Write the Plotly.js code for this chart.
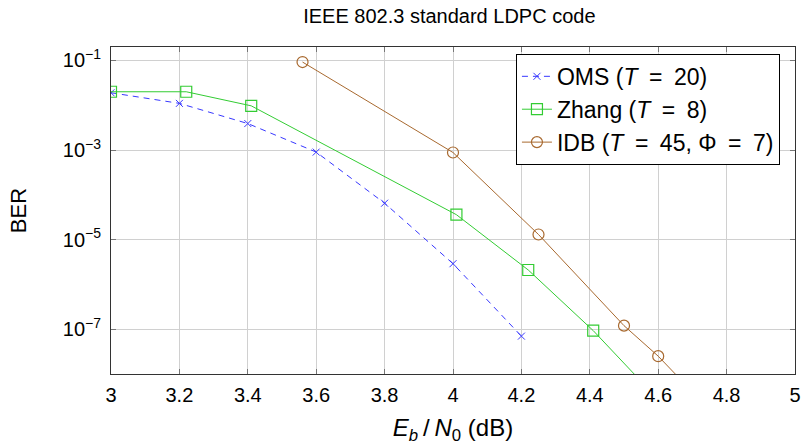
<!DOCTYPE html>
<html><head><meta charset="utf-8">
<script src="https://cdn.plot.ly/plotly-3.0.1.min.js"></script>
<style>body{margin:0;background:#fff}#c{width:801px;height:445px}</style>
</head><body><div id="c"></div>
<script>
const omsX = [3.0, 3.2, 3.4, 3.6, 3.8, 4.0, 4.2];
const omsY = [1.9e-2, 1.1e-2, 3.9e-3, 9.0e-4, 6.5e-5, 2.9e-6, 7.0e-8];
const zhangX = [3.0, 3.22, 3.41, 4.01, 4.22, 4.41, 4.6];
const zhangY = [2.0e-2, 2.0e-2, 9.7e-3, 3.6e-5, 2.1e-6, 9.3e-8, 2.7e-9];
const idbX = [3.56, 4.0, 4.25, 4.5, 4.6, 4.7];
const idbY = [9.2e-2, 8.8e-4, 1.3e-5, 1.2e-7, 2.5e-8, 4.0e-9];
const xTicks = [3, 3.2, 3.4, 3.6, 3.8, 4, 4.2, 4.4, 4.6, 4.8, 5];
const yTicks = [1e-1, 1e-3, 1e-5, 1e-7];
const yTickText = ['10<sup>−1</sup>', '10<sup>−3</sup>', '10<sup>−5</sup>', '10<sup>−7</sup>'];

const FONT = '"Liberation Sans", Arial, sans-serif';
const EQ = '\u2002=\u2002';
const traces = [
  {x: omsX, y: omsY, name: 'OMS (<i>T</i>' + EQ + '20)', mode: 'lines+markers',
   line: {color: '#3838ff', width: 1, dash: '6px,5px'},
   marker: {symbol: 'x-thin', size: 7, color: '#3838ff', line: {color: '#3838ff', width: 1}}},
  {x: zhangX, y: zhangY, name: 'Zhang (<i>T</i>' + EQ + '8)', mode: 'lines+markers',
   line: {color: '#33cc33', width: 1},
   marker: {symbol: 'square-open', size: 11, color: '#33cc33', line: {width: 1.2}}},
  {x: idbX, y: idbY, name: 'IDB (<i>T</i>' + EQ + '45, Φ' + EQ + '7)', mode: 'lines+markers',
   line: {color: '#a8692f', width: 1},
   marker: {symbol: 'circle-open', size: 11, color: '#a8692f', line: {width: 1.2}}}
];
const layout = {
  width: 801, height: 445,
  margin: {l: 111, r: 6, t: 47, b: 71},
  paper_bgcolor: '#fff', plot_bgcolor: '#fff',
  font: {family: FONT, color: '#000', size: 20},
  title: {text: 'IEEE 802.3 standard LDPC code', font: {size: 20, family: FONT}, x: 0.561, xanchor: 'center', y: 0.965, yanchor: 'middle'},
  showlegend: true,
  legend: {x: 0.978, y: 0.979, xanchor: 'right', yanchor: 'top', bordercolor: '#000', borderwidth: 1,
           bgcolor: '#fff', font: {size: 23, family: FONT}, tracegroupgap: 0},
  xaxis: {range: [3, 5], tickvals: xTicks, ticktext: xTicks.map(String), showgrid: true, gridcolor: '#d0d0d0',
          zeroline: false, showline: true, linecolor: '#333', linewidth: 1, mirror: 'allticks',
          ticks: 'inside', ticklen: 5, tickcolor: '#777', tickfont: {size: 20}, ticklabelstandoff: 3,
          title: {text: '<i>E<sub>b</sub></i>\u2009/\u2009<i>N</i><sub>0</sub> (dB)', font: {size: 24}, standoff: 14}},
  yaxis: {type: 'log', range: [-8, -0.7], tickvals: yTicks, ticktext: yTickText, showgrid: true, gridcolor: '#d0d0d0',
          zeroline: false, showline: true, linecolor: '#333', linewidth: 1, mirror: 'allticks',
          ticks: 'inside', ticklen: 5, tickcolor: '#777', tickfont: {size: 20}, ticklabelstandoff: 5,
          title: {text: 'BER', font: {size: 22}, standoff: 30}}
};
Plotly.newPlot('c', traces, layout, {displayModeBar: false, staticPlot: true});
</script></body></html>
